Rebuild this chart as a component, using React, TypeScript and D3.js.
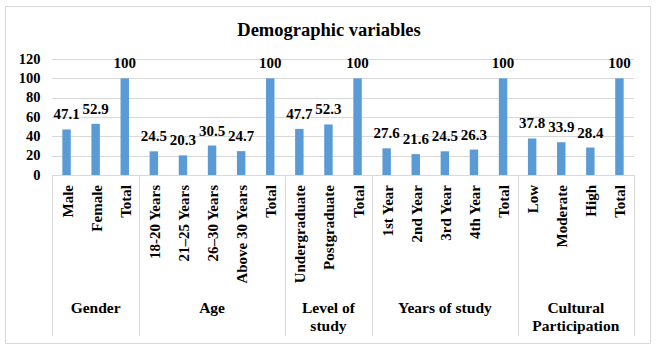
import React from "react";
import * as d3 from "d3";

const groups = ["Gender", "Age", "Level of study", "Years of study", "Cultural Participation"];
const groupLines = [["Gender"], ["Age"], ["Level of", "study"], ["Years of study"], ["Cultural", "Participation"]];
const categories = [
  "Male", "Female", "Total",
  "18-20 Years", "21–25 Years", "26–30 Years", "Above 30 Years", "Total",
  "Undergraduate", "Postgraduate", "Total",
  "1st Year", "2nd Year", "3rd Year", "4th Year", "Total",
  "Low", "Moderate", "High", "Total",
];
const categoryGroup = [0, 0, 0, 1, 1, 1, 1, 1, 2, 2, 2, 3, 3, 3, 3, 3, 4, 4, 4, 4];
const values = [47.1, 52.9, 100, 24.5, 20.3, 30.5, 24.7, 100, 47.7, 52.3, 100, 27.6, 21.6, 24.5, 26.3, 100, 37.8, 33.9, 28.4, 100];
const yTicks = [0, 20, 40, 60, 80, 100, 120];

const W = 656, H = 351;
const left = 52, right = 634, top = 59, bottom = 175;
const FONT = "Liberation Serif";

export default function App() {
  const idx = categories.map((_, i) => i);
  const x = d3.scaleBand<number>().domain(idx).range([left, right]).paddingInner(0.71).paddingOuter(0.355);
  const band = d3.scaleBand<number>().domain(idx).range([left, right]).padding(0);
  const y = d3.scaleLinear().domain([0, 120]).range([bottom, top]);

  const bounds: number[] = [left];
  groups.forEach((_, g) => {
    const last = categoryGroup.lastIndexOf(g);
    bounds.push((band(last) as number) + band.bandwidth());
  });

  const ts = { fontFamily: FONT, fontWeight: "bold" as const };

  return (
    <svg width={W} height={H} style={{ position: "absolute", left: 0, top: 0, fontFamily: FONT }}>
      <rect x={0} y={0} width={W} height={H} fill="#fff" />
      <rect x={5.5} y={6.5} width={645} height={337} fill="#fff" stroke="#d9d9d9" strokeWidth={1} />
      <text x={329} y={35.5} textAnchor="middle" fontSize={18.5} style={ts} fill="#000">Demographic variables</text>
      {yTicks.map((t) => (
        <g key={t}>
          <line x1={left} x2={right} y1={Math.round(y(t)) + 0.5} y2={Math.round(y(t)) + 0.5} stroke="#d9d9d9" />
          <text x={40.5} y={y(t) + 4.5} textAnchor="end" fontSize={14.5} style={ts} fill="#000">{t}</text>
        </g>
      ))}
      {bounds.map((b, i) => (
        <line key={i} x1={Math.round(b) + 0.5} x2={Math.round(b) + 0.5} y1={bottom} y2={336} stroke="#d9d9d9" />
      ))}
      {values.map((v, i) => (
        <g key={i}>
          <rect x={x(i)} y={y(v)} width={x.bandwidth()} height={y(0) - y(v)} fill="#5B9BD5" />
          <text x={(x(i) as number) + x.bandwidth() / 2} y={y(v) - 10} textAnchor="middle" fontSize={15} style={ts} fill="#000">{v}</text>
        </g>
      ))}
      {categories.map((c, i) => {
        const cx = (band(i) as number) + band.bandwidth() / 2 + 6;
        return (
          <text key={i} transform={`translate(${cx},185) rotate(-90)`} textAnchor="end" fontSize={15} style={ts} fill="#000">{c}</text>
        );
      })}
      {groupLines.map((lines, g) => {
        const cx = (bounds[g] + bounds[g + 1]) / 2;
        return (
          <text key={g} x={cx} y={313} textAnchor="middle" fontSize={15.5} style={ts} fill="#000">
            {lines.map((l, k) => (
              <tspan key={k} x={cx} dy={k === 0 ? 0 : 18}>{l}</tspan>
            ))}
          </text>
        );
      })}
    </svg>
  );
}
